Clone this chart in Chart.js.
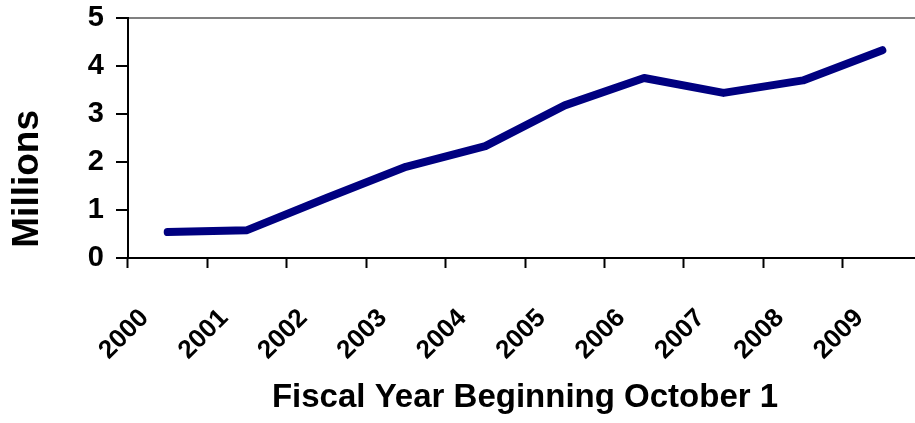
<!DOCTYPE html>
<html>
<head>
<meta charset="utf-8">
<script src="https://cdn.jsdelivr.net/npm/chart.js@4/dist/chart.umd.min.js"></script>
<style>
  html, body { margin: 0; padding: 0; background: #fff; overflow: hidden; }
  #wrap { width: 940px; height: 423px; }
</style>
</head>
<body>
<div id="wrap"><canvas id="chart-fy" width="940" height="423"></canvas></div>
<script>
(function () {
  'use strict';

  var years = ['2000', '2001', '2002', '2003', '2004', '2005', '2006', '2007', '2008', '2009'];
  var millions = [0.54, 0.58, 1.25, 1.90, 2.33, 3.18, 3.75, 3.44, 3.70, 4.33];
  var yTicks = [0, 1, 2, 3, 4, 5];

  Chart.defaults.font.family = "'Liberation Sans', Arial, sans-serif";
  Chart.defaults.font.weight = 'bold';
  Chart.defaults.color = '#000';

  new Chart(document.getElementById('chart-fy'), {
    type: 'line',
    data: {
      labels: years,
      datasets: [{
        data: millions,
        borderColor: '#000080',
        borderWidth: 8,
        borderCapStyle: 'round',
        borderJoinStyle: 'round',
        pointRadius: 0,
        tension: 0,
        fill: false
      }]
    },
    options: {
      responsive: false,
      animation: false,
      layout: { padding: { left: 0, right: 12, top: 18, bottom: 0 } },
      plugins: { legend: { display: false }, tooltip: { enabled: false } },
      scales: {
        x: {
          type: 'category',
          offset: true,
          afterFit: function (s) { s.height = 165; },
          border: { color: '#000', width: 2 },
          grid: { offset: true, drawOnChartArea: false, tickLength: 10, tickColor: '#000', tickWidth: 2 },
          ticks: {
            autoSkip: false,
            minRotation: 45,
            maxRotation: 45,
            padding: 35,
            labelOffset: -23,
            font: { size: 26, weight: 'bold' }
          },
          title: {
            display: true,
            text: 'Fiscal Year Beginning October 1',
            font: { size: 33, weight: 'bold' },
            padding: { top: 0, bottom: 5 }
          }
        },
        y: {
          min: yTicks[0],
          max: yTicks[yTicks.length - 1],
          // fixed axis box so the plot starts at x=128 and y=18
          afterFit: function (s) { s.width = 128; s.paddingTop = 0; s.paddingBottom = 0; },
          afterBuildTicks: function (s) { s.ticks = yTicks.map(function (v) { return { value: v }; }); },
          border: { color: '#000', width: 2 },
          grid: {
            color: function (c) { return c.tick && c.tick.value === 5 ? '#808080' : 'rgba(0,0,0,0)'; },
            lineWidth: 2,
            tickColor: '#000',
            tickWidth: 2,
            tickLength: 12
          },
          ticks: { padding: 12, font: { size: 29, weight: 'bold' } },
          title: {
            display: true,
            text: ' Millions',
            align: 'start',
            font: { size: 37, weight: 'bold' },
            padding: { top: 6, bottom: 0 }
          }
        }
      }
    }
  });
})();
</script>
</body>
</html>
